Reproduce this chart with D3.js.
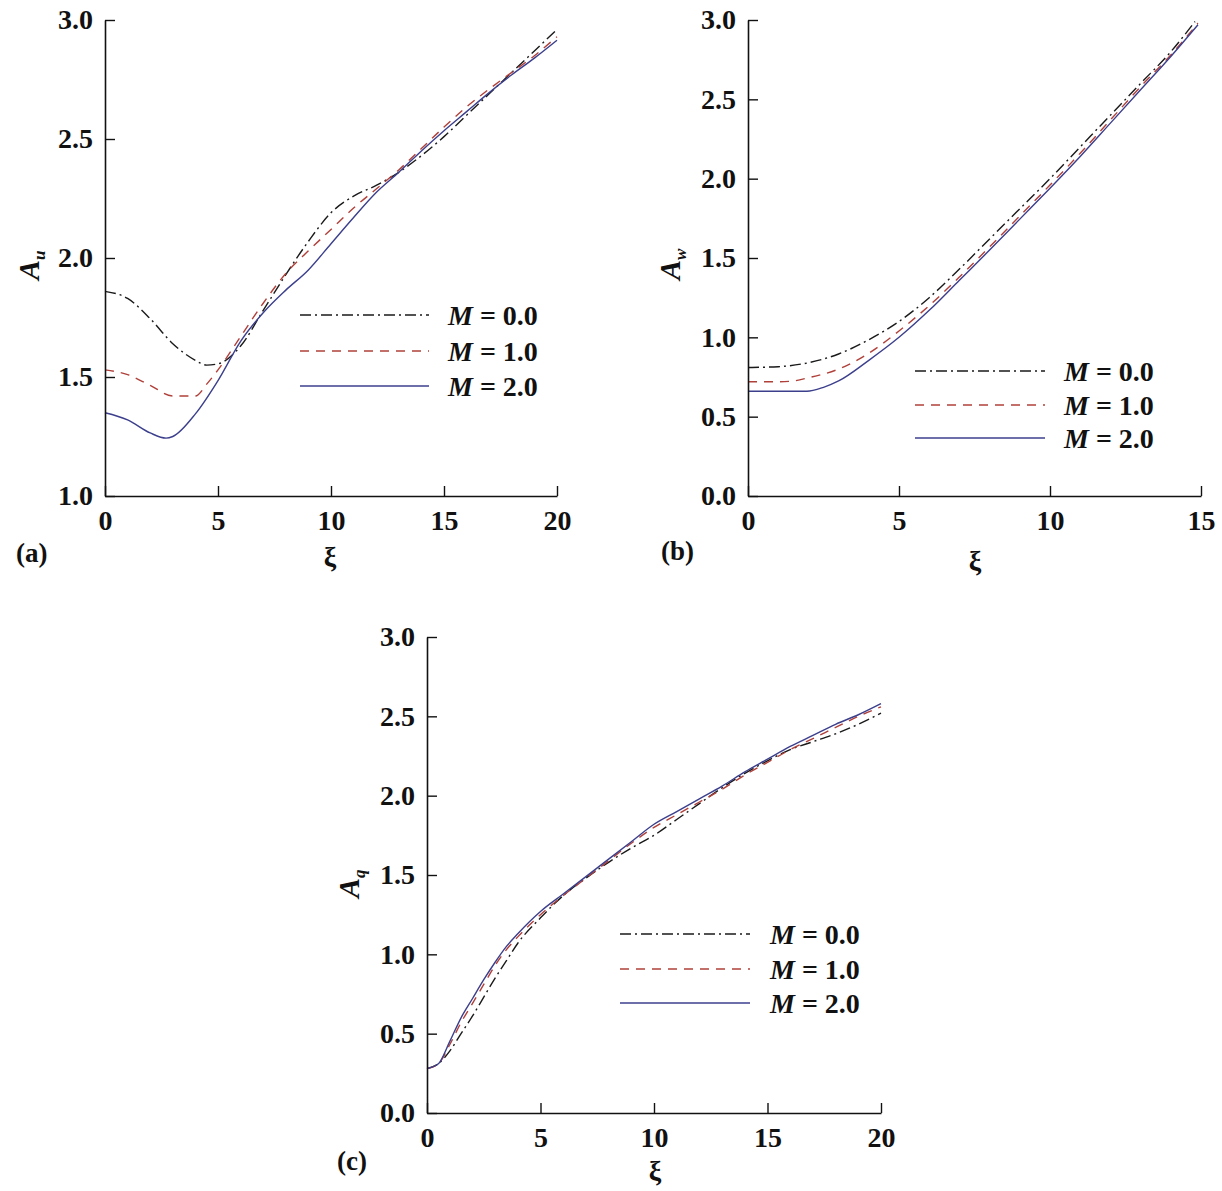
<!DOCTYPE html>
<html>
<head>
<meta charset="utf-8">
<script src="https://cdn.jsdelivr.net/npm/d3@7"></script>
<style>
  html, body { margin: 0; padding: 0; background: #fff; }
  svg { display: block; }
  text { font-family: "Liberation Serif", "Times New Roman", "DejaVu Serif", serif; }
</style>
</head>
<body>
<svg id="chart" width="1222" height="1191"></svg>
<script>
// ---------------- DATA ----------------
const seriesNames = ["M = 0.0", "M = 1.0", "M = 2.0"];
const mLabels = ["0.0", "1.0", "2.0"];

// Panel (a): A_u vs xi
const xiA = [0, 1, 2, 3, 4, 4.5, 5, 6, 7, 8, 9, 10, 11, 12, 13, 14, 15, 16, 17, 18, 19, 20];
const aM0 = [1.86, 1.83, 1.745, 1.64, 1.57, 1.55, 1.555, 1.63, 1.78, 1.93, 2.07, 2.19, 2.26, 2.305, 2.36, 2.43, 2.51, 2.6, 2.69, 2.78, 2.87, 2.96];
const aM1 = [1.53, 1.51, 1.465, 1.42, 1.42, 1.47, 1.53, 1.67, 1.81, 1.935, 2.03, 2.12, 2.21, 2.29, 2.37, 2.46, 2.55, 2.635, 2.71, 2.78, 2.85, 2.93];
const xiA2 = [0, 1, 2, 2.7, 3, 4, 5, 6, 7, 8, 9, 10, 11, 12, 13, 14, 15, 16, 17, 18, 19, 20];
const aM2 = [1.35, 1.32, 1.265, 1.243, 1.25, 1.345, 1.485, 1.65, 1.77, 1.865, 1.95, 2.06, 2.17, 2.275, 2.36, 2.45, 2.535, 2.615, 2.695, 2.77, 2.84, 2.915];

// Panel (b): A_w vs xi
const xiB0 = [0, 1, 2, 3, 4, 5, 6, 7, 8, 9, 10, 11, 12, 13, 14, 14.8];
const bM0 = [0.81, 0.815, 0.84, 0.895, 0.985, 1.1, 1.25, 1.43, 1.62, 1.81, 2.0, 2.2, 2.4, 2.6, 2.8, 2.99];
const xiB1 = [0, 1, 1.5, 2, 3, 4, 5, 6, 7, 8, 9, 10, 11, 12, 13, 14, 14.9];
const bM1 = [0.72, 0.72, 0.725, 0.745, 0.8, 0.9, 1.04, 1.2, 1.38, 1.57, 1.765, 1.96, 2.16, 2.37, 2.58, 2.78, 2.98];
const xiB2 = [0, 1, 1.95, 2.5, 3, 4, 5, 6, 7, 8, 9, 10, 11, 12, 13, 14, 14.9];
const bM2 = [0.66, 0.66, 0.66, 0.685, 0.725, 0.855, 1.0, 1.17, 1.36, 1.55, 1.745, 1.94, 2.14, 2.35, 2.56, 2.77, 2.97];

// Panel (c): A_q vs xi
const xiC = [0, 0.5, 1, 1.5, 2, 2.5, 3, 3.5, 4, 5, 6, 7, 8, 9, 10, 11, 12, 13, 14, 15, 16, 17, 18, 19, 20];
const cM0 = [0.28, 0.31, 0.39, 0.5, 0.61, 0.73, 0.85, 0.96, 1.07, 1.23, 1.37, 1.48, 1.58, 1.67, 1.75, 1.85, 1.95, 2.05, 2.14, 2.22, 2.29, 2.34, 2.39, 2.45, 2.52];
const cM1 = [0.28, 0.31, 0.43, 0.57, 0.69, 0.81, 0.93, 1.03, 1.11, 1.25, 1.37, 1.48, 1.59, 1.7, 1.8, 1.88, 1.96, 2.04, 2.13, 2.21, 2.29, 2.36, 2.43, 2.5, 2.56];
const cM2 = [0.28, 0.31, 0.45, 0.6, 0.72, 0.84, 0.95, 1.05, 1.13, 1.27, 1.38, 1.49, 1.6, 1.71, 1.82, 1.9, 1.98, 2.06, 2.15, 2.23, 2.31, 2.38, 2.45, 2.51, 2.58];

// Tick values
const xTicks20 = [0, 5, 10, 15, 20];
const xTicks15 = [0, 5, 10, 15];
const yTicksA = [1.0, 1.5, 2.0, 2.5, 3.0];
const yTicksBC = [0.0, 0.5, 1.0, 1.5, 2.0, 2.5, 3.0];

const panelLetters = ["(a)", "(b)", "(c)"];
const yTitleSubs = ["u", "w", "q"];

// ---------------- STYLES ----------------
const styles = [
  { color: "#1a1a1a", dash: "11,4,2,4" },
  { color: "#b0403a", dash: "9,7" },
  { color: "#3b3f8c", dash: null }
];

// ---------------- LAYOUT ----------------
const panels = [
  { left: 105, right: 557, top: 20, bottom: 496, xDom: [0, 20], yDom: [1, 3], xt: xTicks20, yt: yTicksA,
    series: [[xiA, aM0], [xiA, aM1], [xiA2, aM2]],
    legend: { x0: 300, x1: 429, ys: [315, 351, 386], tx: 448 },
    yTitle: { x: 39, y: 280 }, xTitle: { x: 330, y: 566 }, letter: { x: 16, y: 562 } },
  { left: 748, right: 1201, top: 20, bottom: 496, xDom: [0, 15], yDom: [0, 3], xt: xTicks15, yt: yTicksBC,
    series: [[xiB0, bM0], [xiB1, bM1], [xiB2, bM2]],
    legend: { x0: 915, x1: 1045, ys: [371, 405, 438], tx: 1064 },
    yTitle: { x: 680, y: 280 }, xTitle: { x: 975, y: 570 }, letter: { x: 661, y: 560 } },
  { left: 427, right: 881, top: 637, bottom: 1113, xDom: [0, 20], yDom: [0, 3], xt: xTicks20, yt: yTicksBC,
    series: [[xiC, cM0], [xiC, cM1], [xiC, cM2]],
    legend: { x0: 620, x1: 750, ys: [934, 969, 1003], tx: 770 },
    yTitle: { x: 359, y: 898 }, xTitle: { x: 655, y: 1180 }, letter: { x: 337, y: 1170 } }
];

const svg = d3.select("#chart");
svg.append("rect").attr("width", 1222).attr("height", 1191).attr("fill", "#fff");

panels.forEach((p, pi) => {
  const x = d3.scaleLinear().domain(p.xDom).range([p.left, p.right]);
  const y = d3.scaleLinear().domain(p.yDom).range([p.bottom, p.top]);
  const g = svg.append("g");

  // series
  const line = d3.line().x(d => x(d[0])).y(d => y(d[1])).curve(d3.curveMonotoneX);
  p.series.forEach((s, si) => {
    const pts = s[0].map((v, i) => [v, s[1][i]]);
    g.append("path")
      .attr("d", line(pts))
      .attr("fill", "none")
      .attr("stroke", styles[si].color)
      .attr("stroke-width", 1.4)
      .attr("stroke-dasharray", styles[si].dash);
  });

  // axes
  const xAxis = d3.axisBottom(x).tickValues(p.xt).tickSizeInner(-10).tickSizeOuter(0).tickPadding(14).tickFormat(d3.format("d"));
  const yAxis = d3.axisLeft(y).tickValues(p.yt).tickSizeInner(-10).tickSizeOuter(0).tickPadding(12).tickFormat(d3.format(".1f"));
  const gx = g.append("g").attr("transform", `translate(0,${p.bottom})`).call(xAxis);
  const gy = g.append("g").attr("transform", `translate(${p.left},0)`).call(yAxis);
  [gx, gy].forEach(ax => {
    ax.select(".domain").attr("stroke", "#111").attr("stroke-width", 1.6);
    ax.selectAll(".tick line").attr("stroke", "#111").attr("stroke-width", 1.4);
    ax.selectAll(".tick text")
      .attr("fill", "#111")
      .style("font-family", "'Liberation Serif', 'Times New Roman', serif")
      .style("font-weight", "bold")
      .style("font-size", "28px");
  });

  // legend
  styles.forEach((st, si) => {
    const ly = p.legend.ys[si];
    g.append("line")
      .attr("x1", p.legend.x0).attr("x2", p.legend.x1)
      .attr("y1", ly).attr("y2", ly)
      .attr("stroke", st.color).attr("stroke-width", 1.4)
      .attr("stroke-dasharray", st.dash);
    const t = g.append("text")
      .attr("x", p.legend.tx).attr("y", ly + 10)
      .attr("fill", "#111")
      .style("font-size", "28px").style("font-weight", "bold");
    t.append("tspan").style("font-style", "italic").text("M");
    t.append("tspan").text(" = " + mLabels[si]);
  });

  // y title (rotated)
  const yt = g.append("text")
    .attr("transform", `translate(${p.yTitle.x},${p.yTitle.y}) rotate(-90)`)
    .attr("text-anchor", "start")
    .attr("fill", "#111")
    .style("font-size", "30px").style("font-weight", "bold").style("font-style", "italic");
  yt.append("tspan").text("A");
  yt.append("tspan").attr("dy", 6).style("font-size", "17px").text(yTitleSubs[pi]);

  // x title
  g.append("text")
    .attr("x", p.xTitle.x).attr("y", p.xTitle.y)
    .attr("text-anchor", "middle")
    .attr("fill", "#111")
    .style("font-size", "28px").style("font-weight", "bold")
    .text("ξ");

  // panel letter
  g.append("text")
    .attr("x", p.letter.x).attr("y", p.letter.y)
    .attr("fill", "#111")
    .style("font-size", "27px").style("font-weight", "bold")
    .text(panelLetters[pi]);
});
</script>
</body>
</html>
